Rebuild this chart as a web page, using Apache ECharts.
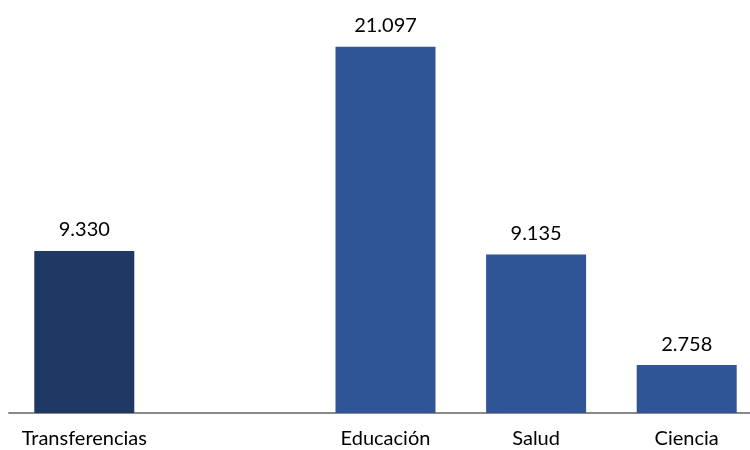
<!DOCTYPE html>
<html><head><meta charset="utf-8">
<script src="https://cdn.jsdelivr.net/npm/echarts@6/dist/echarts.min.js"></script>
<style>html,body{margin:0;padding:0;background:#fff;overflow:hidden;width:750px;height:450px}#c{width:770px;height:450px}</style>
</head><body><div id="c"></div>
<script>
var categories = ['Transferencias', '', 'Educación', 'Salud', 'Ciencia'];
var values = [9330, null, 21097, 9135, 2758];
var labels = ['9.330', '', '21.097', '9.135', '2.758'];
var colors = ['#203864', '#2F5597', '#2F5597', '#2F5597', '#2F5597'];

var chart = echarts.init(document.getElementById('c'));
chart.setOption({
  animation: false,
  grid: { left: 9, top: 31, width: 753, height: 382, containLabel: false },
  xAxis: {
    type: 'category', data: categories,
    axisLine: { lineStyle: { color: '#898989', width: 2 } },
    axisTick: { show: false },
    axisLabel: { color: '#000', fontFamily: 'Lato', fontSize: 20, margin: 16, interval: 0 }
  },
  yAxis: { type: 'value', min: 0, max: 22000, show: false, splitLine: { show: false } },
  series: [{
    type: 'bar', barWidth: 100,
    data: values.map(function (v, i) { return { value: v, itemStyle: { color: colors[i] } }; }),
    label: {
      show: true, position: 'top', distance: 11, color: '#000',
      fontFamily: 'Lato', fontSize: 20,
      formatter: function (p) { return labels[p.dataIndex]; }
    }
  }]
});
</script></body></html>
